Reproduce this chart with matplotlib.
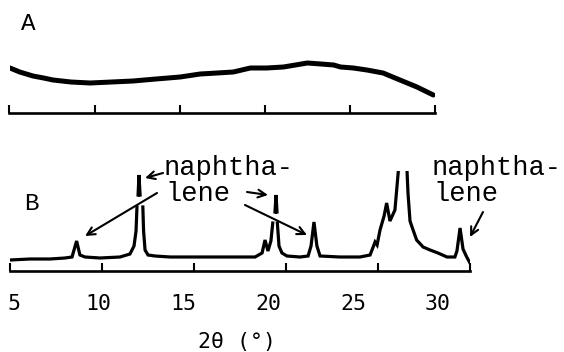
import numpy as np
import matplotlib
matplotlib.use("Agg")
import matplotlib.pyplot as plt

W, H = 564, 352

# ---- data ----
# Panel A : amorphous halo (2theta in degrees, intensity in arbitrary units)
a_theta = [5.03, 5.6, 6.38, 7.0, 7.56, 8.6, 9.74, 11.0, 12.26, 13.6, 15.03, 16.2,
           17.2, 18.15, 19.15, 20.1, 21.1, 21.8, 22.5, 23.3, 24.05, 24.45, 25.2,
           26.0, 26.95, 27.94, 28.94, 29.9]
a_int = [45, 41, 37, 35, 33, 31, 30, 31, 32, 34, 36, 39,
         40, 41, 45, 45, 46, 48, 50, 49, 48, 46, 45,
         43, 40, 33, 26, 18]

# Panel B : crystalline pattern (NaN = break in the recorder trace)
b_theta = [5.0, 6.09, 7.17, 7.99, 8.37, 8.62, 8.80, 9.08, 9.89, 10.98, 11.52, 11.74,
           11.85, 11.90, np.nan, 11.96, 12.01, 12.07, np.nan, 12.22, 12.26, 12.34,
           12.5, 12.88, 13.70, 15.33, 16.96, 18.32, 18.70, 18.86, 19.02, 19.18,
           19.28, np.nan, 19.40, 19.46, 19.51, np.nan, 19.53, 19.62, 19.78, 20.05,
           20.76, 21.20, 21.36, 21.52, 21.68, 21.85, 22.93, 24.02, 24.57, 24.84,
           24.95, 25.11, 25.33, 25.47, 25.65, 25.92, 26.10, 26.33, 26.58, 26.63,
           26.74, 26.85, 27.10, 27.45, 27.83, 28.26, 28.75, 29.18, 29.29, 29.46,
           29.62, 29.82, 30.0]
b_int = [11, 12, 12, 13, 14, 30, 16, 14, 13, 14, 17, 25,
         40, 64, np.nan, 76, 96, 76, np.nan, 64, 40, 21,
         16, 15, 14, 14, 14, 14, 18, 31, 20, 30,
         48, np.nan, 59, 76, 59, np.nan, 48, 25, 18, 15,
         14, 15, 25, 49, 25, 15, 14, 14, 16, 29,
         26, 41, 55, 68, 50, 61, 99, 220, 99, 78,
         50, 44, 31, 24, 21, 18, 14, 14, 20, 43,
         22, 14, 8]

ticks = [5, 10, 15, 20, 25, 30]
tick_labels = ["5", "10", "15", "20", "25", "30"]
xlabel = "2\u03b8 (\u00b0)"

fig = plt.figure(figsize=(W / 100, H / 100), dpi=100)
fig.patch.set_facecolor("white")


def px_box(x0, x1, ytop, ybot):
    return [x0 / W, (H - ybot) / H, (x1 - x0) / W, (ybot - ytop) / H]


def style_axis(ax):
    for s in ["top", "left", "right"]:
        ax.spines[s].set_visible(False)
    ax.spines["bottom"].set_linewidth(1.9)
    ax.set_yticks([])
    ax.set_xlim(5, 30)
    ax.set_xticks(ticks)
    ax.set_xticklabels([])
    ax.tick_params(axis="x", direction="in", length=5.5, width=1.5, color="black")
    ax.patch.set_alpha(0)
    for t in ax.xaxis.get_major_ticks():
        t.tick1line.set_clip_on(False)


axA = fig.add_axes(px_box(9.5, 435, 50, 113))
style_axis(axA)
axA.set_ylim(0, 63)
axA.plot(a_theta, a_int, color="black", lw=3.6, solid_capstyle="round")

axB = fig.add_axes(px_box(10, 470, 171, 271))
style_axis(axB)
axB.set_ylim(0, 100)
axB.plot(b_theta, b_int, color="black", lw=2.3, solid_joinstyle="miter")

# tick labels (printed on their own scale, slightly offset from panel B)
axL = fig.add_axes(px_box(13.5, 438, 287, 288))
for s in axL.spines.values():
    s.set_visible(False)
axL.set_yticks([])
axL.set_xlim(5, 30)
axL.set_xticks(ticks)
axL.set_xticklabels(tick_labels, family="DejaVu Sans Mono", fontsize=15.5)
axL.tick_params(axis="x", length=0, pad=4)
axL.patch.set_alpha(0)

fig.text(237 / W, (H - 342) / H, xlabel, family="DejaVu Sans Mono", fontsize=15.5,
         ha="center", va="center")

mono = "Liberation Mono"
fig.text(21 / W, (H - 30) / H, "A", family=mono, fontsize=17.5, va="baseline")
fig.text(24 / W, (H - 210) / H, "B", family=mono, fontsize=17.5, va="baseline")
fig.text(164 / W, (H - 175) / H, "naphtha-", family=mono, fontsize=19.5, va="baseline")
fig.text(165 / W, (H - 201) / H, "lene", family=mono, fontsize=19.5, va="baseline")
fig.text(432 / W, (H - 175) / H, "naphtha-", family=mono, fontsize=19.5, va="baseline")
fig.text(433 / W, (H - 201) / H, "lene", family=mono, fontsize=19.5, va="baseline")

arrows = [((12.34, 93), (163, 173)),
          ((9.08, 35), (157, 193)),
          ((19.02, 76), (247, 192)),
          ((21.14, 36), (245, 205)),
          ((30.0, 34), (483, 212))]
for tip, tail in arrows:
    axB.annotate("", xy=tip, xycoords="data", xytext=(tail[0], H - tail[1]),
                 textcoords="figure pixels", annotation_clip=False,
                 arrowprops=dict(arrowstyle="->", lw=1.5, color="black",
                                 shrinkA=0, shrinkB=0, mutation_scale=14))

fig.savefig("out.png", dpi=100, facecolor="white")
